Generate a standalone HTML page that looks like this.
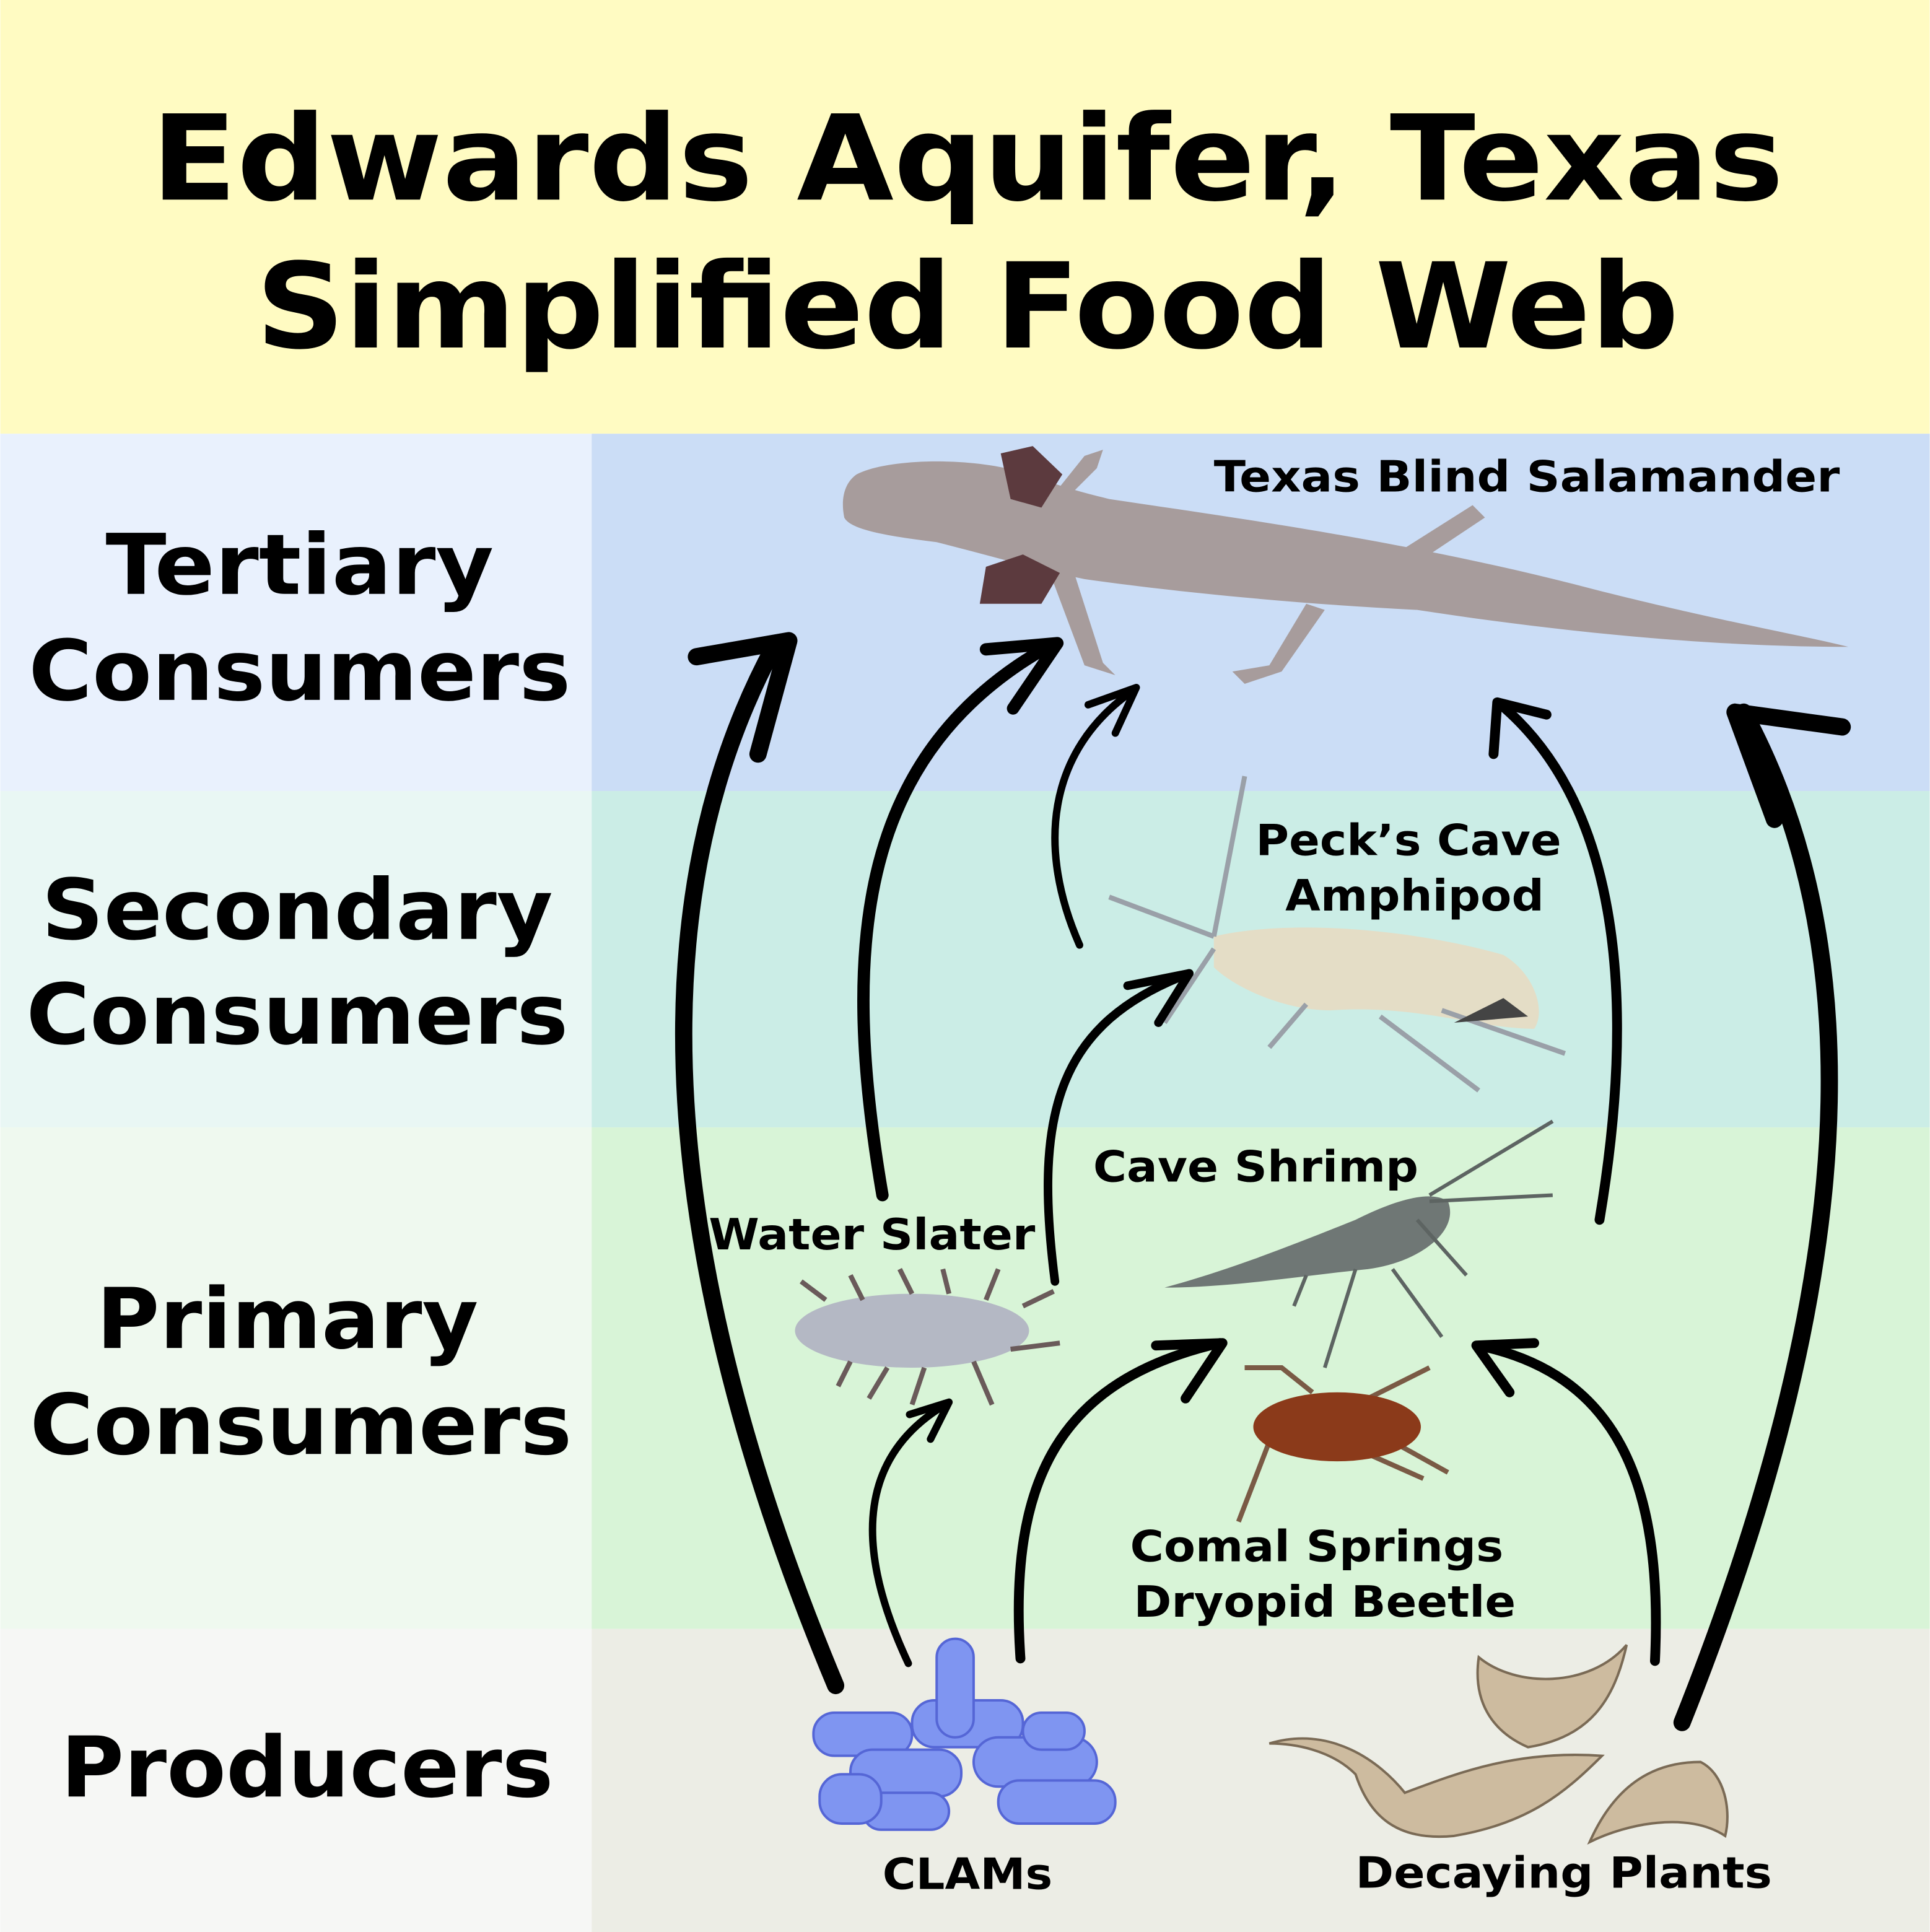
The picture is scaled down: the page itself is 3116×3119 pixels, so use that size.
<!DOCTYPE html>
<html><head><meta charset="utf-8"><style>
html,body{margin:0;padding:0;background:#fff}
svg{display:block}
text{font-family:"DejaVu Sans","Liberation Sans",sans-serif;font-weight:bold;fill:#000}
</style></head><body>
<svg width="3116" height="3119" viewBox="0 0 1566 1568" xmlns="http://www.w3.org/2000/svg">
<rect x="0" y="0" width="1566" height="352" fill="#fffbc2"/>
<rect x="0" y="352" width="480" height="290" fill="#e9f1fd"/>
<rect x="480" y="352" width="1086" height="290" fill="#cbddf6"/>
<rect x="0" y="642" width="480" height="273" fill="#e9f7f4"/>
<rect x="480" y="642" width="1086" height="273" fill="#cbede6"/>
<rect x="0" y="915" width="480" height="407" fill="#eff9ef"/>
<rect x="480" y="915" width="1086" height="407" fill="#d8f4d7"/>
<rect x="0" y="1322" width="480" height="246" fill="#f6f7f5"/>
<rect x="480" y="1322" width="1086" height="246" fill="#ecede5"/>

<text x="785" y="162" font-size="96" text-anchor="middle" textLength="1325" lengthAdjust="spacingAndGlyphs">Edwards Aquifer, Texas</text>
<text x="785" y="282" font-size="96" text-anchor="middle" textLength="1155" lengthAdjust="spacingAndGlyphs">Simplified Food Web</text>

<g font-size="68" text-anchor="middle">
<text x="243" y="482" textLength="315" lengthAdjust="spacingAndGlyphs">Tertiary</text>
<text x="243" y="568" textLength="440" lengthAdjust="spacingAndGlyphs">Consumers</text>
<text x="241" y="762" textLength="415" lengthAdjust="spacingAndGlyphs">Secondary</text>
<text x="241" y="847" textLength="440" lengthAdjust="spacingAndGlyphs">Consumers</text>
<text x="233" y="1094" textLength="310" lengthAdjust="spacingAndGlyphs">Primary</text>
<text x="244" y="1180" textLength="440" lengthAdjust="spacingAndGlyphs">Consumers</text>
<text x="249" y="1458" textLength="400" lengthAdjust="spacingAndGlyphs">Producers</text>
</g>

<!-- salamander -->
<g fill="#a79c9c">
<path d="M1100,470 L1195,410 L1205,420 L1115,480Z"/>
<path d="M1060,490 L1030,540 L1000,545 L1010,555 L1040,545 L1075,495Z"/>
<path d="M850,460 L880,540 L905,548 L895,538 L870,460Z"/>
<path d="M860,395 L880,370 L895,365 L890,380 L870,400Z"/>
<path d="M695,385 C720,372 790,370 835,385 C860,395 880,400 900,405 C1000,420 1150,440 1300,480 C1400,505 1460,515 1500,525 C1400,525 1280,515 1150,495 C1050,490 950,480 880,470 C840,462 800,450 760,440 C720,435 690,430 685,420 C682,405 685,392 695,385Z"/>
</g>
<g fill="#5c3a3e">
<path d="M812,368 L838,362 L862,385 L845,412 L820,405Z"/>
<path d="M800,460 L830,450 L860,465 L845,490 L795,490Z"/>
</g>

<!-- amphipod -->
<g>
<path d="M985,760 C1050,745 1150,755 1220,775 C1245,790 1255,820 1245,835 C1200,835 1150,815 1080,820 C1040,820 1000,800 985,785Z" fill="#e4ddc6"/>
<path d="M985,760 L1010,630 M985,760 L900,728 M985,770 L945,830 M1060,815 L1030,850 M1120,825 L1200,885 M1170,820 L1270,855" stroke="#9aa0a8" stroke-width="4" fill="none"/>
<path d="M1180,830 L1240,825 L1220,810Z" fill="#444"/>
</g>

<!-- shrimp -->
<g>
<path d="M945,1045 C1000,1030 1050,1010 1100,990 C1130,975 1160,965 1175,975 C1185,1000 1150,1025 1110,1030 C1060,1035 1000,1045 945,1045Z" fill="#6f7775"/>
<path d="M1160,970 L1260,910 M1160,975 L1260,970 M1150,990 L1190,1035 M1100,1030 L1075,1110 M1130,1030 L1170,1085 M1060,1035 L1050,1060" stroke="#5d6462" stroke-width="3" fill="none"/>
</g>

<!-- water slater -->
<g>
<ellipse cx="740" cy="1080" rx="95" ry="30" fill="#b4b8c4"/>
<path d="M670,1055 L650,1040 M690,1105 L680,1125 M720,1110 L705,1135 M750,1110 L740,1140 M790,1105 L805,1140 M820,1095 L860,1090 M800,1055 L810,1030 M770,1050 L765,1030 M740,1050 L730,1030 M700,1055 L690,1035 M830,1060 L855,1048" stroke="#6a5a5a" stroke-width="4" fill="none"/>
</g>

<!-- beetle -->
<g>
<path d="M1065,1130 L1040,1110 L1010,1110 M1110,1135 L1160,1110 M1030,1170 L1005,1235 M1110,1180 L1155,1200 M1130,1170 L1175,1195" stroke="#7a5a45" stroke-width="4" fill="none"/>
<ellipse cx="1085" cy="1158" rx="68" ry="28" fill="#8b3a1a"/>
</g>

<!-- CLAMs -->
<g fill="#7f95f1" stroke="#5566d6" stroke-width="2">
<rect x="660" y="1390" width="80" height="35" rx="17"/>
<rect x="690" y="1420" width="90" height="38" rx="18"/>
<rect x="740" y="1380" width="90" height="38" rx="18"/>
<rect x="760" y="1330" width="30" height="80" rx="15"/>
<rect x="790" y="1410" width="100" height="40" rx="20"/>
<rect x="830" y="1390" width="50" height="30" rx="15"/>
<rect x="700" y="1455" width="70" height="30" rx="15"/>
<rect x="810" y="1445" width="95" height="35" rx="17"/>
<rect x="665" y="1440" width="50" height="40" rx="18"/>
</g>

<!-- leaves -->
<g fill="#cdbb9f" stroke="#7a6a55" stroke-width="2">
<path d="M1200,1345 C1230,1370 1290,1370 1320,1335 C1310,1380 1290,1410 1240,1418 C1210,1405 1195,1380 1200,1345Z"/>
<path d="M1030,1415 C1080,1400 1120,1430 1140,1455 C1180,1440 1230,1420 1300,1425 C1270,1455 1240,1480 1180,1490 C1130,1495 1110,1470 1100,1440 C1080,1420 1050,1415 1030,1415Z"/>
<path d="M1290,1495 C1310,1450 1340,1430 1380,1430 C1400,1440 1405,1470 1400,1490 C1370,1470 1320,1480 1290,1495Z"/>
</g>

<!-- arrows -->
<g fill="none" stroke="#000" stroke-linecap="round" stroke-linejoin="round">
<path d="M678,1368 C570,1110 490,780 628,525" stroke-width="14"/>
<path d="M565,533 L640,520 L615,612" stroke-width="14"/>
<path d="M716,970 C680,760 700,610 850,525" stroke-width="10"/>
<path d="M800,527 L858,522 L822,575" stroke-width="10"/>
<path d="M876,767 C842,690 848,610 920,560" stroke-width="6"/>
<path d="M883,572 L922,558 L905,595" stroke-width="6"/>
<path d="M856,1040 C838,900 860,830 965,790" stroke-width="7"/>
<path d="M915,800 L965,790 L940,830" stroke-width="7"/>
<path d="M1298,990 C1330,800 1310,650 1218,572" stroke-width="8"/>
<path d="M1212,612 L1215,570 L1255,580" stroke-width="8"/>
<path d="M1365,1398 C1480,1110 1540,810 1415,578" stroke-width="14"/>
<path d="M1408,578 L1495,590 M1408,578 L1440,665" stroke-width="14"/>
<path d="M737,1350 C690,1250 700,1180 767,1140" stroke-width="6"/>
<path d="M738,1148 L770,1138 L755,1168" stroke-width="6"/>
<path d="M828,1346 C818,1200 860,1120 990,1090" stroke-width="8"/>
<path d="M938,1092 L992,1090 L962,1135" stroke-width="8"/>
<path d="M1343,1348 C1350,1200 1310,1115 1200,1092" stroke-width="8"/>
<path d="M1245,1090 L1198,1092 L1225,1130" stroke-width="8"/>
</g>

<g font-size="35">
<text x="985" y="399" textLength="508" lengthAdjust="spacingAndGlyphs">Texas Blind Salamander</text>
<text x="1143" y="694" text-anchor="middle" textLength="248" lengthAdjust="spacingAndGlyphs">Peck’s Cave</text>
<text x="1148" y="739" text-anchor="middle" textLength="210" lengthAdjust="spacingAndGlyphs">Amphipod</text>
<text x="887" y="959" textLength="264" lengthAdjust="spacingAndGlyphs">Cave Shrimp</text>
<text x="575" y="1014" textLength="265" lengthAdjust="spacingAndGlyphs">Water Slater</text>
<text x="917" y="1267" textLength="303" lengthAdjust="spacingAndGlyphs">Comal Springs</text>
<text x="920" y="1312" textLength="310" lengthAdjust="spacingAndGlyphs">Dryopid Beetle</text>
<text x="785" y="1533" text-anchor="middle" textLength="138" lengthAdjust="spacingAndGlyphs">CLAMs</text>
<text x="1100" y="1532" textLength="338" lengthAdjust="spacingAndGlyphs">Decaying Plants</text>
</g>
</svg>
</body></html>
